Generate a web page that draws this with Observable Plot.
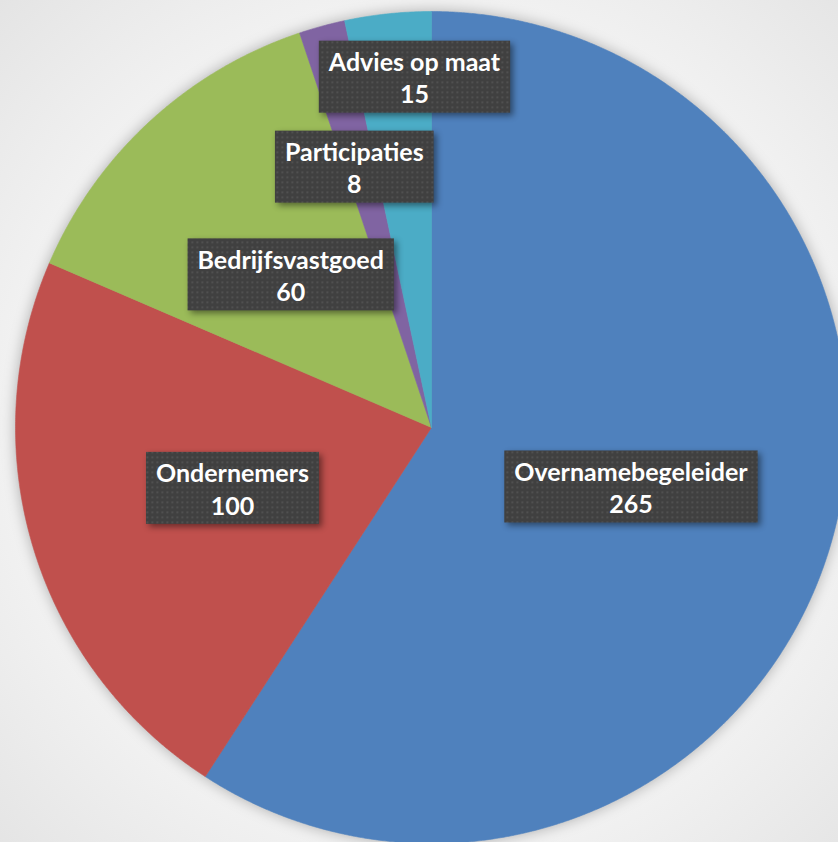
<!DOCTYPE html>
<html>
<head>
<meta charset="utf-8">
<script src="https://cdn.jsdelivr.net/npm/d3@7"></script>
<script src="https://cdn.jsdelivr.net/npm/@observablehq/plot@0.6"></script>
<style>
  html, body { margin: 0; padding: 0; background: #e6e6e6; }
  #chart svg g[aria-label="line"] { filter: drop-shadow(0 0 7px rgba(0,0,0,0.28)); }
</style>
</head>
<body>
<div id="chart"></div>
<script>
// ---- data ----
const categories = ["Overnamebegeleider", "Ondernemers", "Bedrijfsvastgoed", "Participaties", "Advies op maat"];
const values = [265, 100, 60, 8, 15];
const colors = ["#4f81bd", "#c0504d", "#9bbb59", "#8064a2", "#4bacc6"];

// ---- layout ----
const W = 838, H = 842;
const CX = 431, CY = 427, R = 416;
const FONT = "Lato";
const FS = 25;

// label placement tweaks (radius fraction, extra pixel shift)
const labelPlacement = {
  "Participaties": {r: 0.65, dx: -6},
  "Advies op maat": {r: 0.848, dx: 20}
};

const pie = d3.pie().sort(null).value(d => d.value)(
  categories.map((c, i) => ({category: c, value: values[i]}))
);

// build slice polygons from pie angles (clockwise from 12 o'clock)
const polys = [];
for (const s of pie) {
  const cat = s.data.category;
  polys.push({category: cat, x: 0, y: 0});
  const n = Math.max(2, Math.ceil((s.endAngle - s.startAngle) / (Math.PI / 720)));
  for (let k = 0; k <= n; k++) {
    const a = s.startAngle + (s.endAngle - s.startAngle) * k / n;
    polys.push({category: cat, x: Math.sin(a), y: Math.cos(a)});
  }
  polys.push({category: cat, x: 0, y: 0});
}

const labels = pie.map(s => {
  const cat = s.data.category;
  const p = labelPlacement[cat] || {r: 0.5, dx: 0};
  const a = (s.startAngle + s.endAngle) / 2;
  return {category: cat, value: s.data.value, x: p.r * Math.sin(a), y: p.r * Math.cos(a), dx: p.dx};
});

const canvas = document.createElement("canvas");
const mctx = canvas.getContext("2d");
mctx.font = `bold ${FS}px ${FONT}`;

const ns = "http://www.w3.org/2000/svg";

const chart = Plot.plot({
  width: W,
  height: H,
  margin: 0,
  style: {background: `radial-gradient(circle at ${CX}px ${CY}px, #f3f3f3 0px, #f1f1f1 ${R + 10}px, #e2e2e2 ${R + 220}px)`, overflow: "hidden"},
  x: {domain: [-CX / R, (W - CX) / R], axis: null},
  y: {domain: [-(H - CY) / R, CY / R], axis: null},
  color: {domain: categories, range: colors},
  marks: [
    Plot.line(polys, {x: "x", y: "y", z: "category", fill: "category", stroke: "category", strokeWidth: 0.6, curve: "linear"}),
    Plot.text(labels, {
      x: d => d.x + d.dx / R,
      y: "y",
      text: d => `${d.category}\n${d.value}`,
      fill: "white",
      fontSize: FS,
      fontWeight: "bold",
      fontFamily: FONT,
      lineHeight: 1.3,
      render(index, scales, vals, dims, ctx, next) {
        const g = next(index, scales, vals, dims, ctx);
        const boxes = document.createElementNS(ns, "g");
        for (const i of index) {
          const d = labels[i];
          const w = Math.max(mctx.measureText(d.category).width, mctx.measureText(String(d.value)).width);
          const bw = w + 20, bh = 72;
          const r = document.createElementNS(ns, "rect");
          r.setAttribute("x", vals.x[i] - bw / 2);
          r.setAttribute("y", vals.y[i] - bh / 2);
          r.setAttribute("width", bw);
          r.setAttribute("height", bh);
          r.setAttribute("fill", "url(#dots)");
          r.setAttribute("stroke", "none");
          r.setAttribute("style", "filter: drop-shadow(3px 3px 3px rgba(0,0,0,0.45))");
          boxes.appendChild(r);
        }
        g.insertBefore(boxes, g.firstChild);
        return g;
      }
    })
  ]
});

// dotted pattern for the label boxes
const defs = document.createElementNS(ns, "defs");
defs.innerHTML = `<pattern id="dots" width="5" height="5" patternUnits="userSpaceOnUse">
  <rect width="5" height="5" fill="#404040"/>
  <rect x="1" y="1" width="1.6" height="1.6" fill="#585858"/>
</pattern>`;
chart.insertBefore(defs, chart.firstChild);

document.getElementById("chart").appendChild(chart);
</script>
</body>
</html>
